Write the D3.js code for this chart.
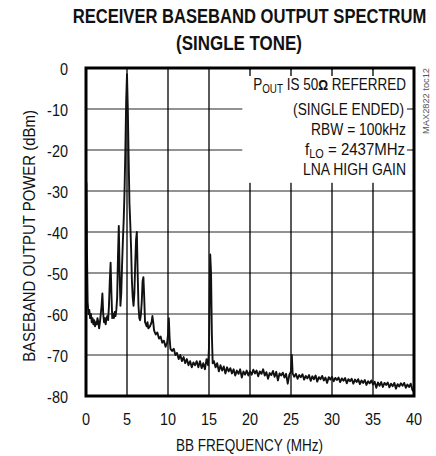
<!DOCTYPE html>
<html><head><meta charset="utf-8">
<script src="https://cdn.jsdelivr.net/npm/d3@7/dist/d3.min.js"></script>
<style>
body{margin:0;background:#fff;}
svg text{font-family:"Liberation Sans",Arial,sans-serif;fill:#111;}
</style></head>
<body><svg id="c" width="436" height="456"></svg>
<script>
const xTicks = [0,5,10,15,20,25,30,35,40];
const yTicks = [0,-10,-20,-30,-40,-50,-60,-70,-80];
const freqMHz = [0.0,0.05,0.12,0.2,0.3,0.4,0.5,0.6,0.7,0.8,0.9,1.0,1.1,1.2,1.3,1.4,1.5,1.6,1.7,1.8,1.9,2.0,2.1,2.2,2.3,2.4,2.5,2.6,2.7,2.8,2.9,3.0,3.1,3.2,3.3,3.4,3.5,3.6,3.7,3.8,3.9,4.0,4.1,4.2,4.3,4.4,4.5,4.6,4.7,4.8,4.9,5.0,5.1,5.2,5.3,5.4,5.5,5.6,5.7,5.8,5.9,6.0,6.1,6.2,6.3,6.4,6.5,6.6,6.7,6.8,6.9,7.0,7.1,7.2,7.3,7.4,7.5,7.6,7.8,8.0,8.1,8.2,8.3,8.5,8.7,8.9,9.1,9.3,9.5,9.7,9.9,10.0,10.1,10.2,10.3,10.5,10.7,10.9,11.1,11.3,11.5,11.7,11.9,12.1,12.3,12.5,12.7,12.9,13.1,13.3,13.5,13.7,13.9,14.1,14.3,14.5,14.7,14.9,15.0,15.1,15.15,15.25,15.35,15.45,15.6,15.8,16.0,16.2,16.4,16.6,16.8,17.0,17.2,17.4,17.6,17.8,18.0,18.2,18.4,18.6,18.8,19.0,19.2,19.4,19.6,19.8,20.0,20.2,20.4,20.6,20.8,21.0,21.2,21.4,21.6,21.8,22.0,22.2,22.4,22.6,22.8,23.0,23.2,23.4,23.6,23.8,24.0,24.2,24.4,24.6,24.8,25.0,25.1,25.2,25.4,25.6,25.8,26.0,26.2,26.4,26.6,26.8,27.0,27.2,27.4,27.6,27.8,28.0,28.2,28.4,28.6,28.8,29.0,29.2,29.4,29.6,29.8,30.0,30.2,30.4,30.6,30.8,31.0,31.2,31.4,31.6,31.8,32.0,32.2,32.4,32.6,32.8,33.0,33.2,33.4,33.6,33.8,34.0,34.2,34.4,34.6,34.8,35.0,35.2,35.4,35.6,35.8,36.0,36.2,36.4,36.6,36.8,37.0,37.2,37.4,37.6,37.8,38.0,38.2,38.4,38.6,38.8,39.0,39.2,39.4,39.6,39.8,40.0];
const powerDBm = [-58,-28,-45,-57,-60,-59,-61,-60,-62,-61,-62.5,-61.5,-63,-62,-62.5,-61,-62,-63.5,-62,-60,-58,-55,-60,-62,-61,-62.5,-61,-60.5,-61.5,-58,-52,-47.5,-55,-61,-60,-61,-59.5,-60.5,-59,-56,-46,-38.5,-50,-58,-55,-48,-42,-37,-30,-20,-8,-1.5,-10,-22,-33,-38,-44,-52,-56,-58,-55,-48,-42,-40,-50,-58,-61,-61.5,-60,-57,-52,-51,-56,-62,-62.5,-63,-62,-63.5,-63,-62,-60.5,-62,-64,-65,-64.5,-66,-65.5,-67,-66.5,-68,-67,-65,-61,-66,-68.5,-69,-68.5,-70,-69.5,-71,-70,-71.5,-70.5,-72,-71,-72.5,-71.5,-73,-71.8,-72.5,-71.5,-73,-71.5,-73.2,-72,-73.5,-71,-72.5,-68,-52,-45.5,-50,-65,-72,-71.5,-73,-72,-74,-72.5,-73.8,-72.8,-74.5,-73,-74,-73.2,-74.5,-73.5,-75,-73.8,-74.6,-73.5,-75.5,-74,-74.8,-73.8,-75,-74,-74.8,-73.6,-74.5,-73.8,-75.2,-74,-74.6,-73.5,-75,-74.2,-75.8,-74.4,-74.9,-73.9,-75.3,-74.1,-76.2,-74.5,-75,-74.3,-75.5,-74.6,-77,-74.8,-74,-70,-74.5,-75.3,-74.6,-75.8,-74.9,-75.4,-74.7,-76,-75.1,-75.7,-74.9,-76.3,-75.2,-75.9,-75,-76.5,-75.4,-75.9,-75.1,-76.2,-75.5,-76.8,-75.4,-76,-75.3,-76.4,-75.6,-76.1,-75.5,-76.6,-75.7,-76.3,-75.6,-76.9,-75.9,-76.4,-75.8,-77,-76,-76.6,-75.9,-77.1,-76.2,-76.8,-76.1,-77.3,-76.4,-76.9,-76.2,-77.2,-76.5,-78,-76.7,-77.5,-76.6,-77.8,-76.8,-77.3,-76.7,-77.9,-77,-77.6,-76.8,-78.2,-77.1,-77.7,-76.9,-77.5,-76.8,-78,-77.2,-77.8,-77,-78.5,-79];

const svg = d3.select("#c");
const L=86, T=68, W=328, H=328;
const x = d3.scaleLinear().domain([0,40]).range([L,L+W]);
const y = d3.scaleLinear().domain([-80,0]).range([T+H,T]);

// text in a horizontally condensed group: width given as target px or as ratio (<=1)
function ntext(parent, tx, ty, anchor, size, build, target, rot, weight){
  const gg = parent.append("g");
  const t = gg.append("text").attr("text-anchor",anchor).style("font-size",size+"px");
  if (weight) t.style("font-weight",weight);
  if (typeof build === "function") build(t); else t.text(build);
  const n = t.node().getComputedTextLength();
  const k = target <= 1.5 ? target : target / n;
  gg.attr("transform", `translate(${tx},${ty})` + (rot ? ` rotate(${rot})` : "") + ` scale(${k},1)`);
  return t;
}

// title
ntext(svg, 249.5, 23, "middle", 20, "RECEIVER BASEBAND OUTPUT SPECTRUM", 354, 0, "bold");
ntext(svg, 239, 50, "middle", 20, "(SINGLE TONE)", 126, 0, "bold");

// grid
const g = svg.append("g");
g.selectAll(".hg").data(yTicks.slice(1,-1)).join("line")
  .attr("x1",L).attr("x2",L+W).attr("y1",d=>y(d)).attr("y2",d=>y(d))
  .attr("stroke","#6e6e6e").attr("stroke-width",1.7);
g.selectAll(".vg").data(xTicks.slice(1,-1)).join("line")
  .attr("y1",T).attr("y2",T+H).attr("x1",d=>x(d)).attr("x2",d=>x(d))
  .attr("stroke","#000").attr("stroke-width",1.3);

// trace
const pts = freqMHz.map((f,i)=>[f,powerDBm[i]]);
svg.append("path").datum(pts)
  .attr("d", d3.line().x(d=>x(d[0])).y(d=>y(d[1])))
  .attr("fill","none").attr("stroke","#111").attr("stroke-width",1.9).attr("stroke-linejoin","round");

// annotation box
svg.append("rect").attr("x",x(19)+0.5).attr("y",T+2).attr("width",x(40)-x(19)-3).attr("height",y(-28)-T-2).attr("fill","#fff");
svg.selectAll(".tt").data([20,25,30,35]).join("line")
  .attr("x1",d=>x(d)).attr("x2",d=>x(d)).attr("y1",T).attr("y2",T+8).attr("stroke","#000").attr("stroke-width",1.3);
svg.selectAll(".rt").data([-10,-20]).join("line")
  .attr("x1",L+W-7).attr("x2",L+W).attr("y1",d=>y(d)).attr("y2",d=>y(d)).attr("stroke","#6e6e6e").attr("stroke-width",1.7);

// frame
svg.append("rect").attr("x",L).attr("y",T).attr("width",W).attr("height",H)
  .attr("fill","none").attr("stroke","#000").attr("stroke-width",3);

// annotation text
ntext(svg, 406, 90, "end", 16.5, t=>{
  t.append("tspan").text("P");
  t.append("tspan").attr("dy",3).style("font-size","12px").text("OUT");
  t.append("tspan").attr("dy",-3).text(" IS 50");
  t.append("tspan").style("font-weight","bold").style("font-size","15px").text("Ω");
  t.append("tspan").text(" REFERRED");
}, 153);
ntext(svg, 404, 115, "end", 16.5, "(SINGLE ENDED)", 111);
ntext(svg, 406, 135, "end", 16.5, "RBW = 100kHz", 95);
ntext(svg, 405, 155, "end", 16.5, t=>{
  t.append("tspan").text("f");
  t.append("tspan").attr("dy",3).style("font-size","12px").text("LO");
  t.append("tspan").attr("dy",-3).text(" = 2437MHz");
}, 100);
ntext(svg, 406, 175, "end", 16.5, "LNA HIGH GAIN", 103);

// side note
ntext(svg, 429, 68, "end", 9.5, "MAX2822 toc12", 66, -90).style("fill","#555");

// tick labels
yTicks.forEach(v => ntext(svg, 68, y(v)+6.5, "end", 17, String(v), 0.85));
xTicks.forEach(v => ntext(svg, x(v), 425, "middle", 17, String(v), 0.85));

// axis titles
ntext(svg, 249.5, 451, "middle", 16.5, "BB FREQUENCY (MHz)", 147);
ntext(svg, 35, 236, "middle", 16.5, "BASEBAND OUTPUT POWER (dBm)", 252, -90);
</script></body></html>
